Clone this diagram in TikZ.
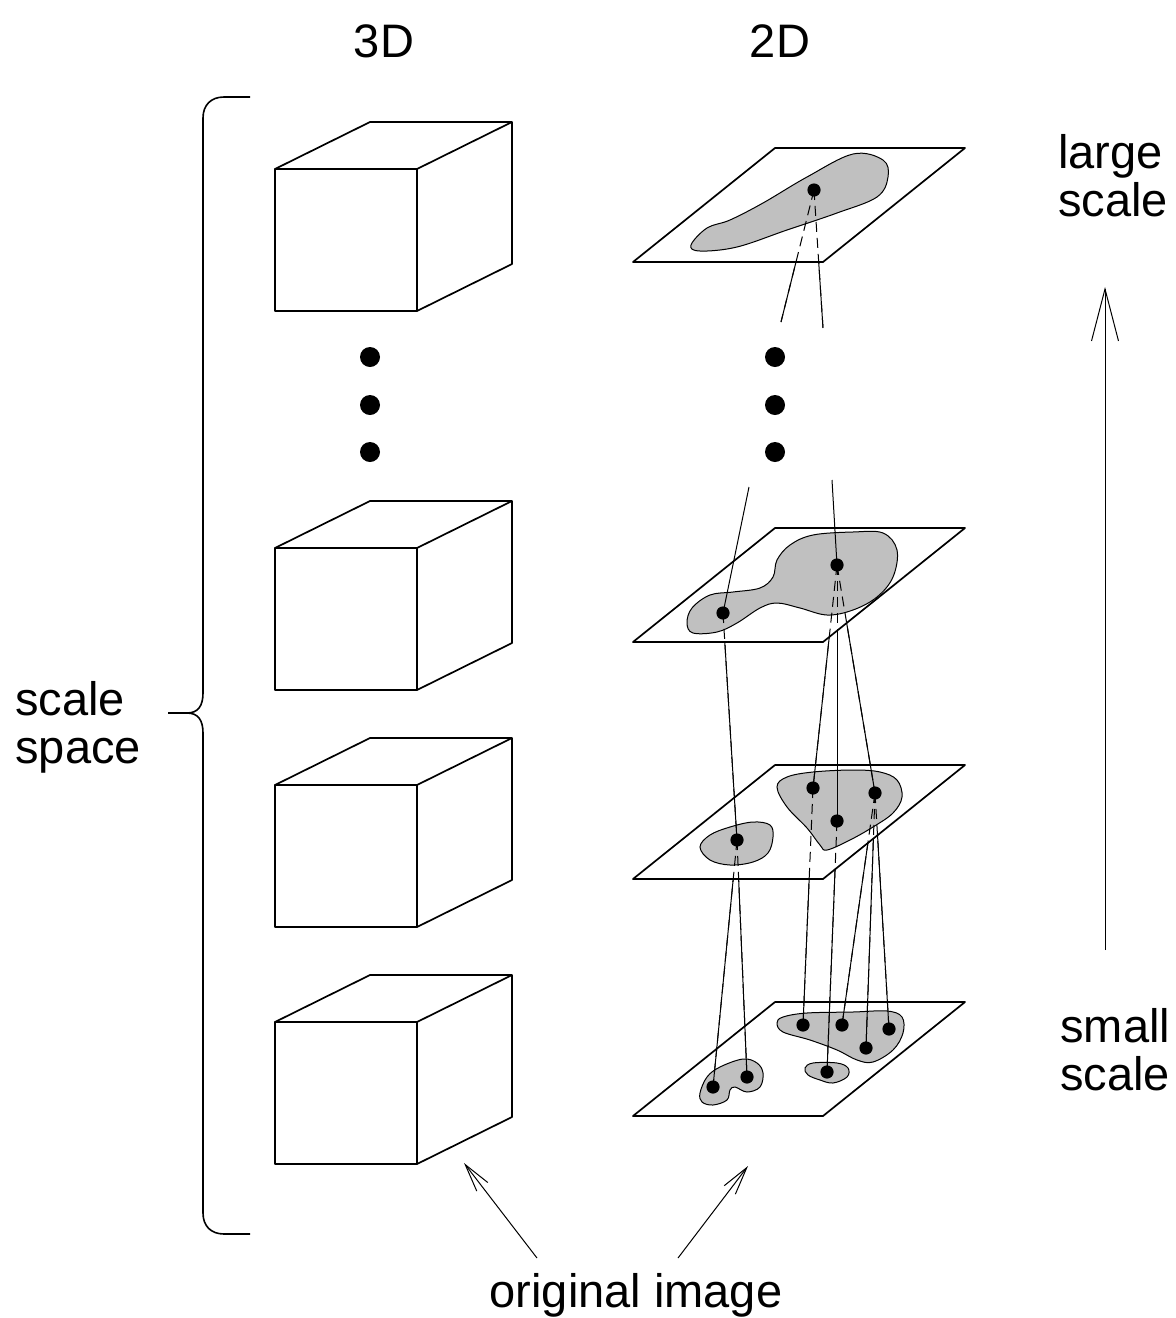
\documentclass[tikz,border=0pt]{standalone}
\usepackage{fontspec}
\setmainfont{Liberation Sans}
\usetikzlibrary{arrows.meta}
\definecolor{blobgray}{RGB}{192,192,192}

\begin{document}
\begin{tikzpicture}[x=0.5pt, y=-0.5pt,
    txt/.style={inner sep=0pt, font=\fontsize{23.5}{24}\selectfont},
    outline/.style={line width=0.85pt, line join=round},
    plane/.style={outline, fill=white},
    blob/.style={draw, line width=0.5pt, fill=blobgray},
    link/.style={line width=0.5pt},
    hidden/.style={link, dash pattern=on 5pt off 3pt},
    pics/cube/.style={code={
      \draw[outline] (0,0) rectangle (142,142);
      \draw[outline] (0,0) -- (95,-47) -- (237,-47) -- (237,95) -- (142,142);
      \draw[outline] (142,0) -- (237,-47);
    }},
    pics/slice/.style={code={
      \draw[plane] (-142,114) -- (0,0) -- (190,0) -- (48,114) -- cycle;
    }},
  ]
  \useasboundingbox (0,0) rectangle (1175,1318);

  % blob centres, one group per level
  \coordinate (t1) at (814,190);
  \coordinate (s2a) at (723,613);
  \coordinate (s2b) at (837,565);
  \coordinate (s3a) at (737,840);
  \coordinate (s3b) at (813,788);
  \coordinate (s3c) at (875,793);
  \coordinate (s3d) at (837,821);
  \coordinate (s4a) at (713,1087);
  \coordinate (s4b) at (747,1077);
  \coordinate (s4c) at (803,1025);
  \coordinate (s4d) at (842,1025);
  \coordinate (s4e) at (889,1029);
  \coordinate (s4f) at (866,1048);
  \coordinate (s4g) at (827,1072);
  % loose ends around the gap
  \coordinate (t1l) at (781,322);
  \coordinate (t1r) at (823,328);
  \coordinate (s2al) at (749,487);
  \coordinate (s2bl) at (832,480);

  % headings
  \node[txt, anchor=base] (head3d) at (384,57) {3D};
  \node[txt, anchor=base] (head2d) at (780,57) {2D};

  % 3D column
  \foreach \y in {169,548,785,1022}
    \pic at (275,\y) {cube};
  \foreach \x in {370,775}
    \foreach \y in {357,405,452}
      \fill (\x,\y) circle[radius=5pt];

  % brace
  \coordinate (bracetip) at (168,713);
  \draw[line width=0.8pt] (250,97) -- (224,97) .. controls (211,97) and (203,105) .. (203,118)
    -- (203,693) .. controls (203,706) and (198,713) .. (187,713) -- (bracetip);
  \draw[line width=0.8pt] (187,713) .. controls (198,713) and (203,720) .. (203,733)
    -- (203,1213) .. controls (203,1226) and (211,1234) .. (224,1234) -- (250,1234);
  \node[txt, anchor=north west, align=left] (scsp) at (15,681) {scale\\space};

  % finest level
  \pic at (775,1002) {slice};
  \draw[blob] plot[smooth cycle, tension=0.6] coordinates {(700,1093) (707,1077) (720,1067) (743,1059)
    (757,1063) (763,1073) (760,1087) (747,1092) (735,1087) (730,1090) (727,1100) (713,1105) (702,1102)};
  \draw[blob] plot[smooth cycle, tension=0.6] coordinates {(805,1068) (813,1063) (837,1063) (848,1068)
    (847,1077) (833,1083) (820,1080) (808,1075)};
  \draw[blob] plot[smooth cycle, tension=0.6] coordinates {(777,1023) (783,1017) (807,1013) (853,1012)
    (887,1011) (902,1017) (903,1033) (893,1050) (873,1062) (857,1060) (837,1050) (810,1040) (783,1032)};

  % third level
  \foreach \a/\b in {s3a/s4a, s3a/s4b, s3b/s4c, s3d/s4g, s3c/s4d, s3c/s4f, s3c/s4e}
    \draw[link] (\a) -- (\b);
  \pic at (775,765) {slice};
  \draw[blob] plot[smooth cycle, tension=0.6] coordinates {(700,847) (710,835) (730,827) (753,822)
    (770,825) (773,837) (768,853) (753,862) (730,865) (710,860)};
  \draw[blob] plot[smooth cycle, tension=0.6] coordinates {(777,787) (787,777) (813,772) (853,770)
    (880,772) (897,780) (902,797) (893,813) (873,827) (850,840) (827,850) (820,845) (807,828) (787,807)};
  \foreach \a/\b in {s3a/s4a, s3a/s4b, s3b/s4c, s3d/s4g, s3c/s4d, s3c/s4f, s3c/s4e}
    \draw[hidden] (\a) -- (\b);

  % second level
  \foreach \a/\b in {s2a/s3a, s2b/s3b, s2b/s3d, s2b/s3c}
    \draw[link] (\a) -- (\b);
  \pic at (775,528) {slice};
  \draw[blob] plot[smooth cycle, tension=0.6] coordinates {(687,623) (692,608) (710,595) (733,592)
    (760,588) (773,577) (777,560) (790,545) (813,535) (853,532) (883,533) (897,550) (893,577)
    (877,597) (853,610) (827,615) (800,608) (777,603) (760,608) (737,623) (717,632) (693,633)};
  \foreach \a/\b in {s2a/s3a, s2b/s3b, s2b/s3d, s2b/s3c}
    \draw[hidden] (\a) -- (\b);
  \draw[link] (s2a) -- (s2al);
  \draw[link] (s2b) -- (s2bl);

  % coarsest level
  \draw[link] (t1) -- (t1l);
  \draw[link] (t1) -- (t1r);
  \pic at (775,148) {slice};
  \draw[blob] plot[smooth cycle, tension=0.6] coordinates {(691,245) (707,228) (730,220) (763,203)
    (807,177) (853,154) (883,160) (888,177) (877,197) (837,213) (787,230) (737,247) (700,251)};
  \draw[hidden] (t1) -- (t1l);
  \draw[hidden] (t1) -- (t1r);

  % blob centres on top
  \foreach \p in {t1,s2a,s2b,s3a,s3b,s3c,s3d,s4a,s4b,s4c,s4d,s4e,s4f,s4g}
    \fill (\p) circle[radius=3.3pt];

  % scale direction
  \node[txt, anchor=north west, align=left] (large) at (1058,134) {large\\scale};
  \node[txt, anchor=north west, align=left] (small) at (1060,1008) {small\\scale};
  \coordinate (up0) at (1105,950);
  \coordinate (up1) at (1105,287);
  \draw[link, -{Straight Barb[length=26pt, width=13.5pt]}] (up0) -- (up1);

  % pointers to the finest level
  \node[txt, anchor=base] (orig) at (636,1307) {original image};
  \coordinate (origl) at (537,1258);
  \coordinate (origr) at (678,1258);
  \coordinate (cubetip) at (464,1163);
  \coordinate (slicetip) at (748,1166);
  \draw[link, -{Straight Barb[length=14pt, width=7pt]}] (origl) -- (cubetip);
  \draw[link, -{Straight Barb[length=14pt, width=7pt]}] (origr) -- (slicetip);
\end{tikzpicture}
\end{document}
